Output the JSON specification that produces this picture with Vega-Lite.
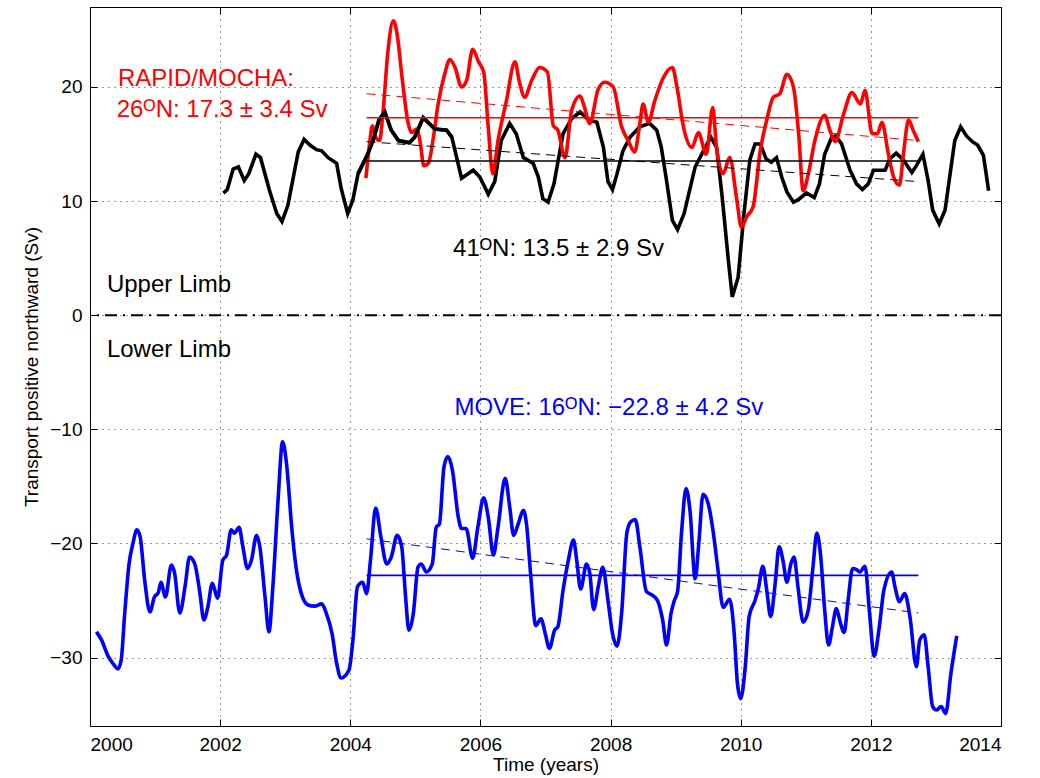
{
  "$schema": "https://vega.github.io/schema/vega-lite/v6.json",
  "width": 911,
  "height": 719,
  "autosize": {"type": "none"},
  "padding": {"left": 90, "top": 7, "right": 39, "bottom": 52},
  "background": "white",
  "config": {
    "view": {"stroke": "black", "strokeWidth": 1},
    "font": "Liberation Sans",
    "text": {"font": "Liberation Sans, DejaVu Sans"}
  },
  "datasets": {
    "n41": [
      {"t": 2002.05, "v": 10.7}, {"t": 2002.11, "v": 11.0}, {"t": 2002.20, "v": 12.8}, {"t": 2002.28, "v": 13.0},
      {"t": 2002.37, "v": 11.8}, {"t": 2002.44, "v": 12.4}, {"t": 2002.55, "v": 14.1}, {"t": 2002.62, "v": 13.8},
      {"t": 2002.76, "v": 10.9}, {"t": 2002.87, "v": 8.9}, {"t": 2002.95, "v": 8.2}, {"t": 2003.04, "v": 9.6},
      {"t": 2003.20, "v": 14.3}, {"t": 2003.29, "v": 15.4}, {"t": 2003.38, "v": 14.9}, {"t": 2003.48, "v": 14.5},
      {"t": 2003.56, "v": 14.4}, {"t": 2003.66, "v": 13.8}, {"t": 2003.79, "v": 13.3}, {"t": 2003.86, "v": 11.1},
      {"t": 2003.96, "v": 8.9}, {"t": 2004.04, "v": 10.1}, {"t": 2004.12, "v": 12.4}, {"t": 2004.26, "v": 14.0},
      {"t": 2004.35, "v": 15.3}, {"t": 2004.44, "v": 17.1}, {"t": 2004.53, "v": 17.8}, {"t": 2004.63, "v": 16.2},
      {"t": 2004.74, "v": 15.3}, {"t": 2004.91, "v": 15.1}, {"t": 2004.99, "v": 15.6}, {"t": 2005.12, "v": 17.3},
      {"t": 2005.30, "v": 16.3}, {"t": 2005.48, "v": 16.2}, {"t": 2005.56, "v": 15.6}, {"t": 2005.71, "v": 12.0},
      {"t": 2005.89, "v": 12.7}, {"t": 2005.99, "v": 12.1}, {"t": 2006.12, "v": 10.6}, {"t": 2006.22, "v": 11.7},
      {"t": 2006.32, "v": 15.3}, {"t": 2006.45, "v": 16.8}, {"t": 2006.55, "v": 15.9}, {"t": 2006.66, "v": 13.8},
      {"t": 2006.81, "v": 13.3}, {"t": 2006.89, "v": 12.1}, {"t": 2006.96, "v": 10.2}, {"t": 2007.04, "v": 9.9},
      {"t": 2007.13, "v": 11.5}, {"t": 2007.27, "v": 15.9}, {"t": 2007.40, "v": 17.2}, {"t": 2007.53, "v": 17.8},
      {"t": 2007.66, "v": 17.1}, {"t": 2007.79, "v": 16.9}, {"t": 2007.89, "v": 14.7}, {"t": 2007.96, "v": 11.7},
      {"t": 2008.03, "v": 11.0}, {"t": 2008.10, "v": 12.4}, {"t": 2008.19, "v": 14.4}, {"t": 2008.30, "v": 15.6},
      {"t": 2008.45, "v": 16.5}, {"t": 2008.60, "v": 16.8}, {"t": 2008.71, "v": 16.2}, {"t": 2008.78, "v": 14.7},
      {"t": 2008.86, "v": 11.8}, {"t": 2008.95, "v": 8.3}, {"t": 2009.03, "v": 7.5}, {"t": 2009.13, "v": 8.9},
      {"t": 2009.30, "v": 13.0}, {"t": 2009.42, "v": 14.3}, {"t": 2009.54, "v": 15.6}, {"t": 2009.63, "v": 14.7},
      {"t": 2009.72, "v": 10.1}, {"t": 2009.81, "v": 4.8}, {"t": 2009.87, "v": 1.6}, {"t": 2009.96, "v": 3.3},
      {"t": 2010.05, "v": 8.9}, {"t": 2010.14, "v": 13.6}, {"t": 2010.22, "v": 15.0}, {"t": 2010.30, "v": 15.0},
      {"t": 2010.39, "v": 13.7}, {"t": 2010.47, "v": 13.4}, {"t": 2010.55, "v": 13.8}, {"t": 2010.63, "v": 12.1},
      {"t": 2010.71, "v": 10.8}, {"t": 2010.81, "v": 9.9}, {"t": 2010.88, "v": 10.1}, {"t": 2011.01, "v": 10.7},
      {"t": 2011.13, "v": 10.3}, {"t": 2011.21, "v": 11.5}, {"t": 2011.29, "v": 14.1}, {"t": 2011.40, "v": 15.6},
      {"t": 2011.46, "v": 15.7}, {"t": 2011.55, "v": 15.0}, {"t": 2011.68, "v": 12.7}, {"t": 2011.78, "v": 11.5},
      {"t": 2011.87, "v": 11.0}, {"t": 2011.96, "v": 11.5}, {"t": 2012.04, "v": 12.7}, {"t": 2012.22, "v": 12.7},
      {"t": 2012.29, "v": 13.7}, {"t": 2012.39, "v": 14.2}, {"t": 2012.50, "v": 13.6}, {"t": 2012.63, "v": 12.5},
      {"t": 2012.70, "v": 13.1}, {"t": 2012.80, "v": 14.1}, {"t": 2012.88, "v": 11.8}, {"t": 2012.95, "v": 9.2},
      {"t": 2013.05, "v": 8.0}, {"t": 2013.14, "v": 9.2}, {"t": 2013.29, "v": 15.3}, {"t": 2013.38, "v": 16.5},
      {"t": 2013.47, "v": 15.7}, {"t": 2013.56, "v": 15.2}, {"t": 2013.64, "v": 14.9}, {"t": 2013.73, "v": 14.0},
      {"t": 2013.81, "v": 10.9}
    ],
    "n26": [
      {"t": 2004.24, "v": 12.0}, {"t": 2004.29, "v": 14.7}, {"t": 2004.34, "v": 16.6}, {"t": 2004.39, "v": 15.6},
      {"t": 2004.45, "v": 15.3}, {"t": 2004.50, "v": 17.6}, {"t": 2004.58, "v": 23.2}, {"t": 2004.66, "v": 25.8},
      {"t": 2004.72, "v": 24.6}, {"t": 2004.80, "v": 20.6}, {"t": 2004.89, "v": 16.8}, {"t": 2004.94, "v": 16.0},
      {"t": 2005.02, "v": 16.3}, {"t": 2005.07, "v": 15.3}, {"t": 2005.13, "v": 13.1}, {"t": 2005.20, "v": 13.3},
      {"t": 2005.27, "v": 15.3}, {"t": 2005.35, "v": 18.5}, {"t": 2005.45, "v": 21.1}, {"t": 2005.53, "v": 22.4},
      {"t": 2005.61, "v": 21.7}, {"t": 2005.71, "v": 20.0}, {"t": 2005.79, "v": 20.6}, {"t": 2005.88, "v": 23.3},
      {"t": 2005.97, "v": 22.2}, {"t": 2006.05, "v": 21.3}, {"t": 2006.12, "v": 16.5}, {"t": 2006.19, "v": 12.4},
      {"t": 2006.27, "v": 15.3}, {"t": 2006.40, "v": 18.8}, {"t": 2006.53, "v": 22.2}, {"t": 2006.60, "v": 20.4},
      {"t": 2006.68, "v": 19.1}, {"t": 2006.79, "v": 20.6}, {"t": 2006.91, "v": 21.7}, {"t": 2007.03, "v": 21.3},
      {"t": 2007.12, "v": 16.6}, {"t": 2007.19, "v": 16.2}, {"t": 2007.30, "v": 13.8}, {"t": 2007.40, "v": 17.9},
      {"t": 2007.53, "v": 19.2}, {"t": 2007.60, "v": 18.2}, {"t": 2007.68, "v": 16.8}, {"t": 2007.81, "v": 19.8},
      {"t": 2007.91, "v": 20.4}, {"t": 2008.04, "v": 20.0}, {"t": 2008.17, "v": 16.5}, {"t": 2008.27, "v": 15.3},
      {"t": 2008.37, "v": 14.3}, {"t": 2008.45, "v": 16.8}, {"t": 2008.50, "v": 18.5}, {"t": 2008.58, "v": 16.9},
      {"t": 2008.68, "v": 18.8}, {"t": 2008.81, "v": 20.8}, {"t": 2008.95, "v": 21.7}, {"t": 2009.02, "v": 20.0},
      {"t": 2009.12, "v": 16.5}, {"t": 2009.25, "v": 14.7}, {"t": 2009.35, "v": 16.0}, {"t": 2009.47, "v": 14.1},
      {"t": 2009.57, "v": 18.2}, {"t": 2009.63, "v": 14.6}, {"t": 2009.73, "v": 12.4}, {"t": 2009.83, "v": 13.8},
      {"t": 2009.94, "v": 10.1}, {"t": 2010.01, "v": 7.7}, {"t": 2010.09, "v": 8.6}, {"t": 2010.19, "v": 9.5},
      {"t": 2010.30, "v": 14.4}, {"t": 2010.40, "v": 17.1}, {"t": 2010.50, "v": 19.1}, {"t": 2010.60, "v": 19.4},
      {"t": 2010.71, "v": 21.1}, {"t": 2010.81, "v": 20.0}, {"t": 2010.89, "v": 15.9}, {"t": 2010.96, "v": 10.9},
      {"t": 2011.04, "v": 12.4}, {"t": 2011.14, "v": 15.3}, {"t": 2011.29, "v": 17.5}, {"t": 2011.37, "v": 16.2},
      {"t": 2011.45, "v": 15.2}, {"t": 2011.58, "v": 17.6}, {"t": 2011.71, "v": 19.5}, {"t": 2011.84, "v": 18.5},
      {"t": 2011.91, "v": 19.7}, {"t": 2012.02, "v": 15.9}, {"t": 2012.10, "v": 15.9}, {"t": 2012.17, "v": 16.9},
      {"t": 2012.27, "v": 14.1}, {"t": 2012.35, "v": 12.1}, {"t": 2012.44, "v": 11.4}, {"t": 2012.50, "v": 14.1},
      {"t": 2012.58, "v": 17.1}, {"t": 2012.65, "v": 16.2}, {"t": 2012.73, "v": 15.2}
    ],
    "n16": [
      {"t": 2000.10, "v": -27.75}, {"t": 2000.18, "v": -28.5}, {"t": 2000.28, "v": -29.9}, {"t": 2000.35, "v": -30.5},
      {"t": 2000.43, "v": -31.0}, {"t": 2000.48, "v": -30.2}, {"t": 2000.53, "v": -26.4}, {"t": 2000.60, "v": -21.8},
      {"t": 2000.66, "v": -20.0}, {"t": 2000.72, "v": -18.8}, {"t": 2000.77, "v": -19.4}, {"t": 2000.84, "v": -23.2},
      {"t": 2000.92, "v": -26.0}, {"t": 2000.99, "v": -24.7}, {"t": 2001.05, "v": -24.3}, {"t": 2001.09, "v": -23.4},
      {"t": 2001.16, "v": -24.7}, {"t": 2001.25, "v": -21.9}, {"t": 2001.30, "v": -22.6}, {"t": 2001.38, "v": -26.1},
      {"t": 2001.46, "v": -23.8}, {"t": 2001.53, "v": -21.2}, {"t": 2001.61, "v": -21.8}, {"t": 2001.69, "v": -24.4},
      {"t": 2001.75, "v": -26.7}, {"t": 2001.81, "v": -25.6}, {"t": 2001.88, "v": -23.5}, {"t": 2001.96, "v": -24.8},
      {"t": 2002.04, "v": -21.5}, {"t": 2002.10, "v": -21.0}, {"t": 2002.17, "v": -18.8}, {"t": 2002.22, "v": -19.1},
      {"t": 2002.29, "v": -18.6}, {"t": 2002.35, "v": -20.3}, {"t": 2002.42, "v": -22.2}, {"t": 2002.48, "v": -21.5},
      {"t": 2002.56, "v": -19.3}, {"t": 2002.61, "v": -20.3}, {"t": 2002.69, "v": -24.7}, {"t": 2002.75, "v": -27.75},
      {"t": 2002.81, "v": -23.8}, {"t": 2002.89, "v": -16.2}, {"t": 2002.96, "v": -11.1}, {"t": 2003.02, "v": -13.0},
      {"t": 2003.10, "v": -18.6}, {"t": 2003.16, "v": -21.8}, {"t": 2003.22, "v": -23.8}, {"t": 2003.35, "v": -25.4},
      {"t": 2003.45, "v": -25.5}, {"t": 2003.56, "v": -25.3}, {"t": 2003.63, "v": -26.1}, {"t": 2003.72, "v": -27.9},
      {"t": 2003.79, "v": -30.5}, {"t": 2003.86, "v": -31.8}, {"t": 2003.98, "v": -31.1}, {"t": 2004.04, "v": -28.5},
      {"t": 2004.11, "v": -23.8}, {"t": 2004.19, "v": -23.4}, {"t": 2004.25, "v": -24.4}, {"t": 2004.31, "v": -21.5},
      {"t": 2004.39, "v": -16.9}, {"t": 2004.47, "v": -19.4}, {"t": 2004.56, "v": -21.8}, {"t": 2004.63, "v": -21.2},
      {"t": 2004.72, "v": -19.3}, {"t": 2004.79, "v": -20.3}, {"t": 2004.85, "v": -24.7}, {"t": 2004.90, "v": -27.6},
      {"t": 2004.97, "v": -26.1}, {"t": 2005.04, "v": -22.1}, {"t": 2005.09, "v": -21.8}, {"t": 2005.17, "v": -22.5},
      {"t": 2005.26, "v": -21.8}, {"t": 2005.32, "v": -18.6}, {"t": 2005.37, "v": -18.3}, {"t": 2005.44, "v": -13.3},
      {"t": 2005.50, "v": -12.4}, {"t": 2005.57, "v": -13.6}, {"t": 2005.66, "v": -17.7}, {"t": 2005.71, "v": -18.7},
      {"t": 2005.78, "v": -18.7}, {"t": 2005.88, "v": -21.3}, {"t": 2005.96, "v": -18.6}, {"t": 2006.05, "v": -16.0},
      {"t": 2006.12, "v": -17.7}, {"t": 2006.20, "v": -21.0}, {"t": 2006.27, "v": -18.6}, {"t": 2006.38, "v": -14.3},
      {"t": 2006.45, "v": -16.8}, {"t": 2006.51, "v": -19.3}, {"t": 2006.58, "v": -18.3}, {"t": 2006.66, "v": -17.1},
      {"t": 2006.71, "v": -18.4}, {"t": 2006.77, "v": -22.6}, {"t": 2006.85, "v": -27.2}, {"t": 2006.93, "v": -26.6},
      {"t": 2007.00, "v": -28.0}, {"t": 2007.06, "v": -29.2}, {"t": 2007.14, "v": -27.6}, {"t": 2007.19, "v": -27.3},
      {"t": 2007.27, "v": -24.1}, {"t": 2007.35, "v": -21.5}, {"t": 2007.43, "v": -19.7}, {"t": 2007.48, "v": -21.5},
      {"t": 2007.54, "v": -24.0}, {"t": 2007.63, "v": -21.8}, {"t": 2007.68, "v": -22.6}, {"t": 2007.74, "v": -25.8},
      {"t": 2007.81, "v": -23.8}, {"t": 2007.88, "v": -22.1}, {"t": 2007.96, "v": -25.0}, {"t": 2008.03, "v": -27.9},
      {"t": 2008.10, "v": -29.0}, {"t": 2008.17, "v": -26.1}, {"t": 2008.25, "v": -19.1}, {"t": 2008.31, "v": -18.1},
      {"t": 2008.38, "v": -17.9}, {"t": 2008.45, "v": -20.3}, {"t": 2008.55, "v": -24.2}, {"t": 2008.63, "v": -24.5},
      {"t": 2008.72, "v": -25.0}, {"t": 2008.80, "v": -26.7}, {"t": 2008.86, "v": -28.9}, {"t": 2008.93, "v": -26.1},
      {"t": 2008.98, "v": -25.0}, {"t": 2009.03, "v": -24.2}, {"t": 2009.09, "v": -19.1}, {"t": 2009.16, "v": -15.2},
      {"t": 2009.22, "v": -17.1}, {"t": 2009.30, "v": -23.1}, {"t": 2009.36, "v": -19.7}, {"t": 2009.42, "v": -15.7},
      {"t": 2009.50, "v": -16.5}, {"t": 2009.58, "v": -19.1}, {"t": 2009.65, "v": -22.3}, {"t": 2009.73, "v": -25.6},
      {"t": 2009.83, "v": -24.9}, {"t": 2009.90, "v": -27.9}, {"t": 2009.95, "v": -32.3}, {"t": 2010.00, "v": -33.6},
      {"t": 2010.07, "v": -30.8}, {"t": 2010.13, "v": -26.4}, {"t": 2010.22, "v": -25.0}, {"t": 2010.27, "v": -24.0},
      {"t": 2010.34, "v": -22.0}, {"t": 2010.40, "v": -24.1}, {"t": 2010.46, "v": -26.4}, {"t": 2010.53, "v": -23.5},
      {"t": 2010.59, "v": -20.3}, {"t": 2010.65, "v": -21.5}, {"t": 2010.71, "v": -23.4}, {"t": 2010.77, "v": -21.8},
      {"t": 2010.82, "v": -21.2}, {"t": 2010.88, "v": -23.8}, {"t": 2010.96, "v": -26.9}, {"t": 2011.04, "v": -25.8},
      {"t": 2011.11, "v": -22.1}, {"t": 2011.17, "v": -19.1}, {"t": 2011.23, "v": -21.2}, {"t": 2011.29, "v": -25.8},
      {"t": 2011.35, "v": -28.9}, {"t": 2011.41, "v": -27.3}, {"t": 2011.47, "v": -25.7}, {"t": 2011.52, "v": -26.7},
      {"t": 2011.59, "v": -27.8}, {"t": 2011.65, "v": -25.0}, {"t": 2011.72, "v": -22.2}, {"t": 2011.78, "v": -22.3},
      {"t": 2011.83, "v": -22.5}, {"t": 2011.91, "v": -22.0}, {"t": 2011.98, "v": -26.1}, {"t": 2012.05, "v": -29.9},
      {"t": 2012.13, "v": -27.3}, {"t": 2012.20, "v": -24.1}, {"t": 2012.32, "v": -22.5}, {"t": 2012.37, "v": -23.8},
      {"t": 2012.44, "v": -25.1}, {"t": 2012.52, "v": -24.4}, {"t": 2012.60, "v": -26.4}, {"t": 2012.70, "v": -30.8},
      {"t": 2012.75, "v": -28.5}, {"t": 2012.82, "v": -28.0}, {"t": 2012.88, "v": -30.8}, {"t": 2012.95, "v": -34.3},
      {"t": 2013.01, "v": -34.6}, {"t": 2013.08, "v": -34.3}, {"t": 2013.15, "v": -34.9}, {"t": 2013.23, "v": -31.4},
      {"t": 2013.32, "v": -28.1}
    ],
    "fits": [
      {"site": "26N mean", "t": 2004.25, "v": 17.3}, {"site": "26N mean", "t": 2012.73, "v": 17.3},
      {"site": "26N trend", "t": 2004.25, "v": 19.4}, {"site": "26N trend", "t": 2012.73, "v": 15.3},
      {"site": "41N mean", "t": 2004.25, "v": 13.5}, {"site": "41N mean", "t": 2012.73, "v": 13.5},
      {"site": "41N trend", "t": 2004.25, "v": 15.2}, {"site": "41N trend", "t": 2012.73, "v": 11.7},
      {"site": "16N mean", "t": 2004.25, "v": -22.8}, {"site": "16N mean", "t": 2012.73, "v": -22.8},
      {"site": "16N trend", "t": 2004.25, "v": -19.6}, {"site": "16N trend", "t": 2012.73, "v": -26.1}
    ],
    "labels": [
      {"id": "rapid1", "t": 2000.43, "v": 20.1, "label": "RAPID/MOCHA:"},
      {"id": "rapid2", "t": 2000.41, "v": 17.35, "label": "26ᴼN: 17.3 ± 3.4 Sv"},
      {"id": "n41", "t": 2005.58, "v": 5.15, "label": "41ᴼN: 13.5 ± 2.9 Sv"},
      {"id": "move", "t": 2005.6, "v": -8.71, "label": "MOVE: 16ᴼN: −22.8 ± 4.2 Sv"},
      {"id": "upper", "t": 2000.26, "v": 2.0, "label": "Upper Limb"},
      {"id": "lower", "t": 2000.26, "v": -3.7, "label": "Lower Limb"}
    ],
    "zero": [{"v": 0}]
  },
  "layer": [
    {
      "data": {"name": "n41"},
      "mark": {"type": "line", "color": "black", "strokeWidth": 3.6, "interpolate": "linear"},
      "encoding": {
        "x": {"field": "t", "type": "quantitative", "scale": {"domain": [2000, 2014], "nice": false},
          "axis": {"orient": "bottom", "values": [2000, 2002, 2004, 2006, 2008, 2010, 2012, 2014], "format": "d",
            "grid": true, "gridColor": "#000", "gridDash": [1, 5], "gridWidth": 1, "gridOpacity": 0.8,
            "domainColor": "black", "tickColor": "black", "tickSize": -7, "labelPadding": 16,
            "labelFont": "Liberation Sans", "labelFontSize": 19, "labelColor": "black",
            "title": "Time (years)", "titleFont": "Liberation Sans", "titleFontSize": 19, "titleFontWeight": "normal",
            "titleColor": "black", "titlePadding": 1}},
        "y": {"field": "v", "type": "quantitative", "scale": {"domain": [-36, 27], "nice": false, "zero": false},
          "axis": {"orient": "left", "values": [-30, -20, -10, 0, 10, 20], "format": "d",
            "grid": true, "gridColor": "#000", "gridDash": [1, 5], "gridWidth": 1, "gridOpacity": 0.8,
            "domainColor": "black", "tickColor": "black", "tickSize": -7, "labelPadding": 15,
            "labelFont": "Liberation Sans", "labelFontSize": 19, "labelColor": "black",
            "title": "Transport positive northward (Sv)", "titleFont": "Liberation Sans", "titleFontSize": 19,
            "titleFontWeight": "normal", "titleColor": "black", "titlePadding": 8}}
      }
    },
    {
      "data": {"name": "n26"},
      "mark": {"type": "line", "color": "#ff0000", "strokeWidth": 3.6, "interpolate": "monotone"},
      "encoding": {
        "x": {"field": "t", "type": "quantitative", "scale": {"domain": [2000, 2014], "nice": false},
          "axis": {"orient": "top", "values": [2000, 2002, 2004, 2006, 2008, 2010, 2012, 2014], "labels": false,
            "grid": false, "domainColor": "black", "tickColor": "black", "tickSize": -7, "title": null}},
        "y": {"field": "v", "type": "quantitative", "scale": {"domain": [-36, 27], "nice": false, "zero": false},
          "axis": {"orient": "right", "values": [-30, -20, -10, 0, 10, 20], "labels": false,
            "grid": false, "domainColor": "black", "tickColor": "black", "tickSize": -7, "title": null}}
      }
    },
    {
      "data": {"name": "n41"},
      "mark": {"type": "line", "color": "black", "strokeWidth": 3.6, "interpolate": "linear"},
      "transform": [{"filter": "datum.t >= 2004.1 && datum.t <= 2005.6"}],
      "encoding": {
        "x": {"field": "t", "type": "quantitative", "scale": {"domain": [2000, 2014], "nice": false}, "axis": null},
        "y": {"field": "v", "type": "quantitative", "scale": {"domain": [-36, 27], "nice": false, "zero": false}, "axis": null}
      }
    },
    {
      "data": {"name": "n16"},
      "mark": {"type": "line", "color": "#0000ff", "strokeWidth": 3.6, "interpolate": "monotone"},
      "encoding": {
        "x": {"field": "t", "type": "quantitative", "scale": {"domain": [2000, 2014], "nice": false}, "axis": null},
        "y": {"field": "v", "type": "quantitative", "scale": {"domain": [-36, 27], "nice": false, "zero": false}, "axis": null}
      }
    },
    {
      "data": {"name": "fits"},
      "transform": [{"filter": "indexof(datum.site, 'mean') >= 0"}],
      "mark": {"type": "line", "strokeWidth": 1.6},
      "encoding": {
        "x": {"field": "t", "type": "quantitative", "scale": {"domain": [2000, 2014], "nice": false}, "axis": null},
        "y": {"field": "v", "type": "quantitative", "scale": {"domain": [-36, 27], "nice": false, "zero": false}, "axis": null},
        "detail": {"field": "site"},
        "color": {"field": "site", "type": "nominal", "legend": null,
          "scale": {"domain": ["26N mean", "41N mean", "16N mean", "26N trend", "41N trend", "16N trend"],
            "range": ["#ff0000", "#000000", "#0000ff", "#ff0000", "#000000", "#0000ff"]}}
      }
    },
    {
      "data": {"name": "fits"},
      "transform": [{"filter": "indexof(datum.site, 'trend') >= 0"}],
      "mark": {"type": "line", "strokeWidth": 1, "strokeDash": [9, 6]},
      "encoding": {
        "x": {"field": "t", "type": "quantitative", "scale": {"domain": [2000, 2014], "nice": false}, "axis": null},
        "y": {"field": "v", "type": "quantitative", "scale": {"domain": [-36, 27], "nice": false, "zero": false}, "axis": null},
        "detail": {"field": "site"},
        "color": {"field": "site", "type": "nominal", "legend": null,
          "scale": {"domain": ["26N mean", "41N mean", "16N mean", "26N trend", "41N trend", "16N trend"],
            "range": ["#ff0000", "#000000", "#0000ff", "#ff0000", "#000000", "#0000ff"]}}
      }
    },
    {
      "data": {"name": "zero"},
      "mark": {"type": "rule", "color": "black", "strokeWidth": 2, "strokeDash": [12, 6, 2, 6]},
      "encoding": {
        "y": {"field": "v", "type": "quantitative", "scale": {"domain": [-36, 27], "nice": false, "zero": false}, "axis": null}
      }
    },
    {
      "data": {"name": "labels"},
      "mark": {"type": "text", "fontSize": 24, "align": "left", "baseline": "alphabetic"},
      "encoding": {
        "x": {"field": "t", "type": "quantitative", "scale": {"domain": [2000, 2014], "nice": false}, "axis": null},
        "y": {"field": "v", "type": "quantitative", "scale": {"domain": [-36, 27], "nice": false, "zero": false}, "axis": null},
        "text": {"field": "label"},
        "color": {"field": "id", "type": "nominal", "legend": null,
          "scale": {"domain": ["rapid1", "rapid2", "n41", "move", "upper", "lower"],
            "range": ["#ff0000", "#ff0000", "#000000", "#0000ff", "#000000", "#000000"]}}
      }
    }
  ],
  "resolve": {"axis": {"x": "independent", "y": "independent"}, "scale": {"color": "independent"}}
}
